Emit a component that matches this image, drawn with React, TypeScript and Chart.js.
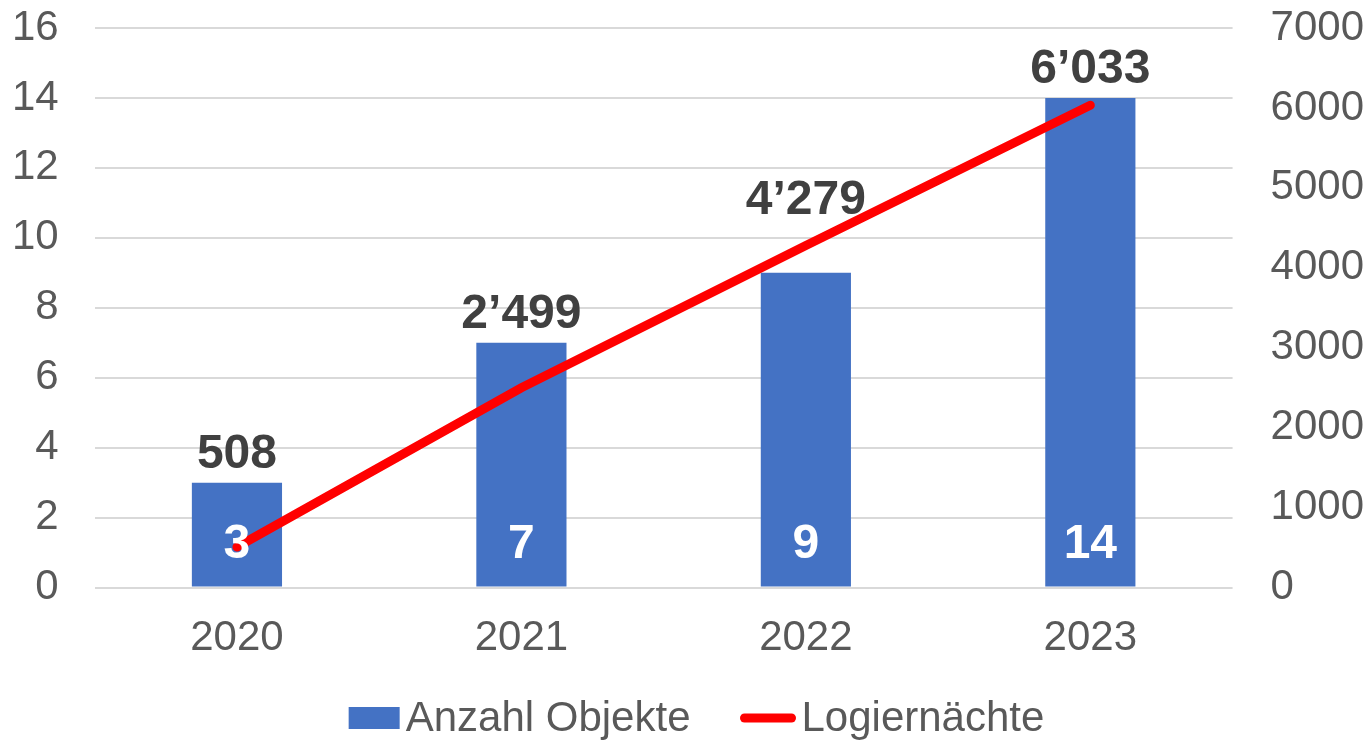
import React, { useEffect, useRef } from "react";
import { Chart, registerables } from "chart.js";

Chart.register(...registerables);

const years = ["2020", "2021", "2022", "2023"];
const anzahlObjekte = [3, 7, 9, 14];
const logiernaechte = [508, 2499, 4279, 6033];
const logiernaechteLabels = ["508", "2’499", "4’279", "6’033"];

const FONT = "'Liberation Sans', Arial, sans-serif";
const GRAY = "#595959";
const BLUE = "#4472C4";
const RED = "#FF0000";

const labelPlugin = {
  id: "valueLabels",
  afterDatasetsDraw(chart: any) {
    const ctx = chart.ctx;
    const barMeta = chart.getDatasetMeta(0);
    const lineMeta = chart.getDatasetMeta(1);
    ctx.save();
    ctx.textAlign = "center";
    ctx.textBaseline = "middle";
    barMeta.data.forEach((bar: any, i: number) => {
      ctx.font = `bold 48px ${FONT}`;
      ctx.fillStyle = "#FFFFFF";
      ctx.fillText(String(anzahlObjekte[i]), bar.x, bar.base - 42);
      const pt = lineMeta.data[i];
      let y: number;
      if (bar.y < pt.y) y = bar.y - 28;
      else y = pt.y - 45;
      ctx.fillStyle = "#404040";
      ctx.fillText(logiernaechteLabels[i], bar.x, y);
    });
    ctx.restore();
  },
};

const legendPlugin = {
  id: "customLegend",
  afterDraw(chart: any) {
    const ctx = chart.ctx;
    const ds = chart.data.datasets;
    ctx.save();
    ctx.font = `42px ${FONT}`;
    ctx.textBaseline = "middle";
    ctx.textAlign = "left";
    const y = 718;
    const boxW = 51;
    const lineW = 55;
    const gapText = 6;
    const gapItems = 50;
    const w0 = ctx.measureText(ds[0].label).width;
    const w1 = ctx.measureText(ds[1].label).width;
    const total = boxW + gapText + w0 + gapItems + lineW + gapText + w1;
    let x = chart.width / 2 - total / 2 + 13;
    ctx.fillStyle = ds[0].backgroundColor;
    ctx.fillRect(x, y - 11, boxW, 22);
    x += boxW + gapText;
    ctx.fillStyle = GRAY;
    ctx.fillText(ds[0].label, x, y + 1);
    x += w0 + gapItems;
    ctx.strokeStyle = ds[1].borderColor;
    ctx.lineWidth = 9;
    ctx.lineCap = "round";
    ctx.beginPath();
    ctx.moveTo(x + 4, y);
    ctx.lineTo(x + lineW - 4, y);
    ctx.stroke();
    x += lineW + gapText;
    ctx.fillStyle = GRAY;
    ctx.fillText(ds[1].label, x, y + 1);
    ctx.restore();
  },
};

const noVerticalPadding = (scale: any) => {
  scale.paddingTop = 0;
  scale.paddingBottom = 0;
};

export default function App() {
  const ref = useRef<HTMLCanvasElement>(null);
  useEffect(() => {
    document.body.style.margin = "0";
    const chart = new Chart(ref.current!, {
      type: "bar",
      data: {
        labels: years,
        datasets: [
          {
            type: "bar",
            label: "Anzahl Objekte",
            data: anzahlObjekte,
            backgroundColor: BLUE,
            yAxisID: "y",
            barPercentage: 0.634,
            categoryPercentage: 0.5,
            order: 2,
          },
          {
            type: "line",
            label: "Logiernächte",
            data: logiernaechte,
            borderColor: RED,
            backgroundColor: RED,
            borderWidth: 9,
            borderCapStyle: "round",
            pointRadius: 0,
            pointHoverRadius: 0,
            yAxisID: "y1",
            order: 1,
          } as any,
        ],
      },
      options: {
        animation: false,
        responsive: false,
        maintainAspectRatio: false,
        layout: { padding: { left: -24, right: -35, top: 28, bottom: 59 } },
        plugins: {
          legend: { display: false },
          tooltip: { enabled: false },
        },
        scales: {
          x: {
            grid: { display: false },
            border: { display: false },
            ticks: { color: GRAY, font: { family: FONT, size: 42 }, padding: 18 },
          },
          y: {
            position: "left",
            min: 0,
            max: 16,
            ticks: { stepSize: 2, color: GRAY, font: { family: FONT, size: 42 }, padding: 36 },
            grid: { color: "#D9D9D9", lineWidth: 2, drawTicks: false },
            border: { display: false },
            afterFit: noVerticalPadding,
          },
          y1: {
            position: "right",
            min: 0,
            max: 7000,
            ticks: {
              stepSize: 1000,
              color: GRAY,
              font: { family: FONT, size: 42 },
              padding: 38,
              callback: (v: any) => String(v),
            },
            grid: { display: false, drawTicks: false },
            border: { display: false },
            afterFit: noVerticalPadding,
          },
        },
      },
      plugins: [labelPlugin, legendPlugin],
    });
    return () => chart.destroy();
  }, []);
  return (
    <div style={{ position: "absolute", left: 0, top: 0, width: 1367, height: 741 }}>
      <canvas ref={ref} width={1367} height={741} style={{ display: "block" }} />
    </div>
  );
}
